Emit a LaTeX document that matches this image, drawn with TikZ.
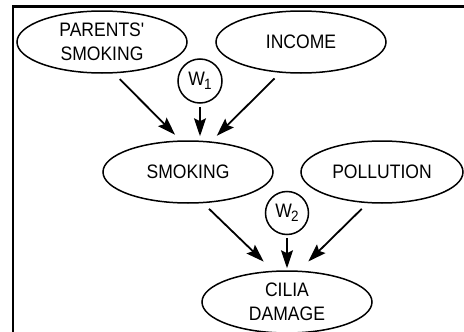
\documentclass[tikz,border=0pt]{standalone}
\usepackage{fontspec}
\newfontfamily\labelfont[FakeStretch=0.9]{Liberation Sans}
\usetikzlibrary{shapes.geometric,arrows.meta}
\newcommand{\wsub}[1]{W\kern-1pt\raisebox{-4pt}{\fontsize{15}{15}\selectfont #1}}

\begin{document}
\begin{tikzpicture}[x=1pt,y=-1pt,
    var/.style={ellipse,draw,line width=1.5pt,minimum width=170pt,minimum height=62pt,
      inner sep=0pt,align=center,font=\labelfont\fontsize{19.5}{23.5}\selectfont},
    wt/.style={circle,draw,line width=1.5pt,minimum size=44pt,inner sep=0pt,
      font=\labelfont\fontsize{19.5}{23.5}\selectfont}]
      \useasboundingbox (0,0) rectangle (464,332);
      \draw[line width=2.3pt] (13,340) -- (13,6.5) -- (470,6.5);
      \path
        (102,42) node[var] (ps){PARENTS\textquotesingle\\SMOKING}
        (301,42) node[var] (inc){INCOME}
        (200,81) node[wt] (w1){\wsub{1}}
        (188,172) node[var] (smk){SMOKING}
        (382,172) node[var,minimum width=162pt] (pol){POLLUTION}
        (287,213) node[wt,minimum size=43pt] (w2){\wsub{2}}
        (287,302) node[var] (cil){CILIA\\DAMAGE};
      \begin{scope}[-{Stealth[length=18pt,width=12pt,inset=3pt]},line width=1.8pt]
        \draw[shorten <=8pt,shorten >=8pt] (ps.-69) to (smk.103);
        \draw[shorten <=8pt,shorten >=8pt] (inc.-124) to (smk.53);
        \draw[shorten <=3pt,shorten >=4pt] (w1.south) to (w1.south |- smk.north);
        \draw[shorten <=8pt,shorten >=13pt] (smk.-64) to (cil.114);
        \draw[shorten <=2.5pt,shorten >=2pt] (w2.south) to (w2.south |- cil.north);
        \draw[shorten <=8pt,shorten >=13pt] (pol.-115) to (cil.69);
      \end{scope}
    \end{tikzpicture}
\end{document}
